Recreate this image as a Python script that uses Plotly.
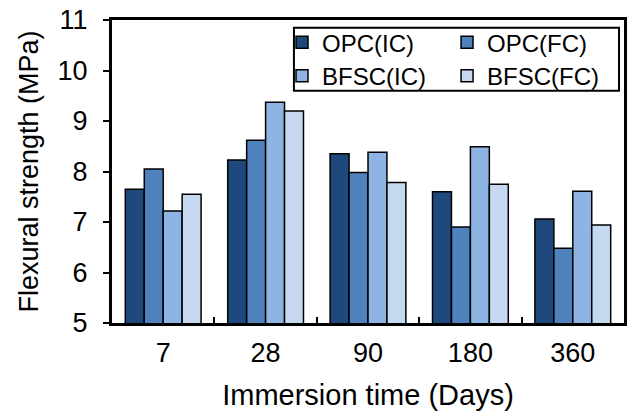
import plotly.graph_objects as go

categories = ["7", "28", "90", "180", "360"]
series_names = ["OPC(IC)", "OPC(FC)", "BFSC(IC)", "BFSC(FC)"]
opc_ic = [7.65, 8.23, 8.35, 7.60, 7.06]
opc_fc = [8.05, 8.62, 7.98, 6.90, 6.48]
bfsc_ic = [7.22, 9.37, 8.38, 8.49, 7.61]
bfsc_fc = [7.55, 9.20, 7.78, 7.75, 6.94]
colors = ["#1f497d", "#4f81bd", "#8db4e2", "#c6d9f0"]
y_ticks = [5, 6, 7, 8, 9, 10, 11]

values = [opc_ic, opc_fc, bfsc_ic, bfsc_fc]
legend_ids = ["legend", "legend2", "legend3", "legend4"]

font = "Liberation Sans, Arial, sans-serif"
fig = go.Figure()
for name, vals, col, lg in zip(series_names, values, colors, legend_ids):
    fig.add_trace(go.Bar(
        x=categories, y=vals, name=name, legend=lg,
        marker=dict(color=col, line=dict(color="black", width=1.5)),
    ))

W, H = 632, 416
ml, mr, mt, mb = 112, 5, 15, 93
pw = W - ml - mr
ph = H - mt - mb

def px(xp):
    return (xp - ml) / pw

def py(yp):
    return (H - mb - yp) / ph

leg_common = dict(font=dict(family=font, size=24, color="black"),
                  bgcolor="rgba(0,0,0,0)", borderwidth=0,
                  xanchor="left", yanchor="middle", itemwidth=30)
col_x = [px(283), px(449)]
row_y = [py(38), py(72)]
pos = [(0, 0), (1, 0), (0, 1), (1, 1)]
layout_legends = {}
for lg, (c, r) in zip(legend_ids, pos):
    layout_legends[lg] = dict(x=col_x[c], y=row_y[r], **leg_common)

fig.update_layout(
    width=W, height=H,
    margin=dict(l=ml, r=mr, t=mt, b=mb),
    paper_bgcolor="white", plot_bgcolor="white",
    barmode="group", bargap=0.26, bargroupgap=0,
    font=dict(family=font, color="black"),
    showlegend=True,
    **layout_legends,
    xaxis=dict(
        type="category", showline=True, linecolor="black", linewidth=3, mirror=True,
        ticks="inside", tickson="boundaries", ticklen=6, tickwidth=2, tickcolor="black",
        tickfont=dict(size=27, family=font, color="black"), ticklabelstandoff=4,
        title=dict(text="Immersion time (Days)", font=dict(size=29, family=font, color="black"), standoff=18),
        showgrid=False,
    ),
    yaxis=dict(
        range=[5, 11], tickvals=y_ticks, showline=True, linecolor="black", linewidth=3, mirror=True,
        ticks="outside", ticklen=6, tickwidth=2, tickcolor="black",
        tickfont=dict(size=27, family=font, color="black"), ticklabelstandoff=10,
        title=dict(text="Flexural strength (MPa)", font=dict(size=27, family=font, color="black"), standoff=12),
        showgrid=False, zeroline=False,
    ),
    shapes=[dict(type="rect", xref="paper", yref="paper",
                 x0=px(295), x1=px(622), y0=py(87), y1=py(23),
                 line=dict(color="black", width=2), fillcolor="rgba(0,0,0,0)")],
)

fig.write_html("out.html")
